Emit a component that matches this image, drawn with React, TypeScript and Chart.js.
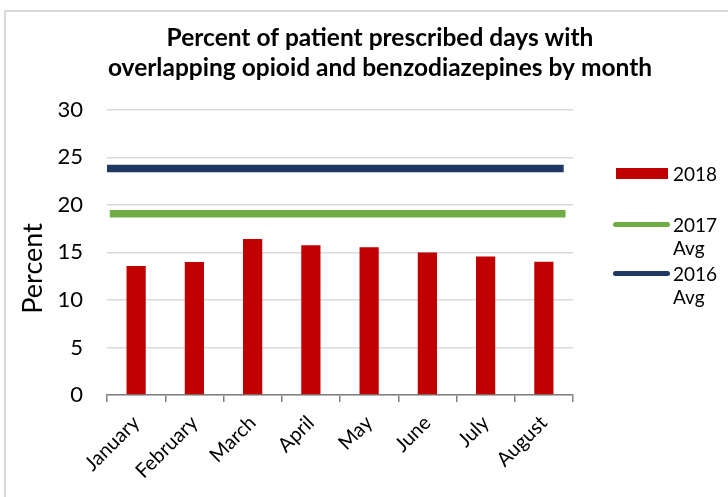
import React, { useEffect, useRef } from "react";
import { Chart, registerables } from "chart.js";

Chart.register(...registerables);

const months = ["January", "February", "March", "April", "May", "June", "July", "August"];
const values2018 = [13.56, 13.98, 16.4, 15.74, 15.53, 15.0, 14.58, 14.02];
const avg2017 = 19.07;
const avg2016 = 23.83;
const lineSpan2017 = [0.006, 0.984];
const lineSpan2016 = [-0.001, 0.98];
const yTicks = [0, 5, 10, 15, 20, 25, 30];
const seriesLabels = ["2018", "2017 Avg", "2016 Avg"];
const seriesColors = ["#C00000", "#70AD47", "#1F3864"];
const titleLines = [
  "Percent of patient prescribed days with",
  "overlapping opioid and benzodiazepines by month",
];
const yAxisTitle = "Percent";

const FONT = "Lato, 'Open Sans', sans-serif";

const yTitlePlugin = {
  id: "yTitlePlugin",
  afterDraw(chart: any) {
    const { ctx, chartArea } = chart;
    ctx.save();
    ctx.translate(33, (chartArea.top + chartArea.bottom) / 2 + 16);
    ctx.rotate(-Math.PI / 2);
    ctx.textAlign = "center";
    ctx.textBaseline = "middle";
    ctx.fillStyle = "#000";
    ctx.font = `27px ${FONT}`;
    ctx.fillText(yAxisTitle, 0, 0);
    ctx.restore();
  },
};

export default function App() {
  const canvasRef = useRef<HTMLCanvasElement | null>(null);

  useEffect(() => {
    document.body.style.margin = "0";
    const canvas = canvasRef.current;
    if (!canvas) return;
    const chart = new Chart(canvas, {
      type: "bar",
      plugins: [yTitlePlugin],
      data: {
        labels: months,
        datasets: [
          {
            type: "line",
            label: seriesLabels[2],
            data: lineSpan2016.map((x) => ({ x, y: avg2016 })),
            xAxisID: "x2",
            borderColor: seriesColors[2],
            borderWidth: 7.5,
            pointRadius: 0,
            borderCapStyle: "butt",
            order: 1,
          } as any,
          {
            type: "line",
            label: seriesLabels[1],
            data: lineSpan2017.map((x) => ({ x, y: avg2017 })),
            xAxisID: "x2",
            borderColor: seriesColors[1],
            borderWidth: 7.5,
            pointRadius: 0,
            borderCapStyle: "butt",
            order: 1,
          } as any,
          {
            type: "bar",
            label: seriesLabels[0],
            data: values2018,
            backgroundColor: seriesColors[0],
            categoryPercentage: 1,
            barPercentage: 0.33,
            grouped: false,
            order: 2,
          } as any,
        ],
      },
      options: {
        responsive: false,
        animation: false,
        layout: { padding: { left: 32, right: 0, top: 0, bottom: 0 } },
        plugins: {
          legend: { display: false },
          tooltip: { enabled: false },
          title: {
            display: true,
            text: titleLines,
            color: "#000",
            font: { family: FONT, size: 24.5, weight: "bold", lineHeight: 1.22 },
            padding: { top: 23, bottom: 27 },
          },
        },
        scales: {
          x: {
            type: "category",
            grid: {
              display: true,
              drawOnChartArea: false,
              drawTicks: true,
              tickLength: 7,
              color: "#7f7f7f",
              lineWidth: 1.5,
              offset: true,
            },
            border: { display: true, color: "#7f7f7f", width: 1.5 },
            ticks: {
              color: "#000",
              font: { family: FONT, size: 20 },
              maxRotation: 45,
              minRotation: 45,
              padding: 9,
            },
            afterFit: (s: any) => {
              s.height = 102;
            },
          },
          x2: {
            type: "linear",
            display: false,
            offset: false,
            min: 0,
            max: 1,
          },
          y: {
            type: "linear",
            min: 0,
            max: 30,
            afterBuildTicks: (s: any) => {
              s.ticks = yTicks.map((v) => ({ value: v }));
            },
            grid: { color: "#d9d9d9", lineWidth: 1.5, drawTicks: false },
            border: { display: false },
            ticks: {
              color: "#000",
              font: { family: FONT, size: 22 },
              padding: 24,
            },
            title: { display: false },
            afterFit: (s: any) => {
              s.width = 107 - 32;
            },
          },
          yR: {
            type: "linear",
            position: "right",
            display: true,
            grid: { display: false, drawTicks: false },
            border: { display: false },
            ticks: { display: false },
            afterFit: (s: any) => {
              s.width = 155;
            },
          },
        },
      },
    });
    return () => chart.destroy();
  }, []);

  const legendText: React.CSSProperties = {
    position: "absolute",
    left: 673,
    width: 48,
    fontFamily: FONT,
    fontSize: 19,
    lineHeight: "23px",
    color: "#000",
  };

  return (
    <div style={{ position: "relative", width: 728, height: 497, overflow: "hidden", background: "#fff" }}>
      <canvas ref={canvasRef} width={728} height={497} style={{ display: "block" }} />
      <div
        style={{
          position: "absolute",
          left: 4,
          top: 10,
          width: 900,
          height: 700,
          border: "2px solid #d9d9d9",
          pointerEvents: "none",
        }}
      />
      <div style={{ position: "absolute", left: 616, top: 168, width: 52, height: 11, background: seriesColors[0] }} />
      <div style={{ ...legendText, top: 173 - 11.5 }}>{seriesLabels[0]}</div>
      <div style={{ position: "absolute", left: 613, top: 222, width: 57, height: 5, borderRadius: 3, background: seriesColors[1] }} />
      <div style={{ ...legendText, top: 224 - 11.5 }}>{seriesLabels[1]}</div>
      <div style={{ position: "absolute", left: 613, top: 271, width: 57, height: 5, borderRadius: 3, background: seriesColors[2] }} />
      <div style={{ ...legendText, top: 273 - 11.5 }}>{seriesLabels[2]}</div>
    </div>
  );
}
